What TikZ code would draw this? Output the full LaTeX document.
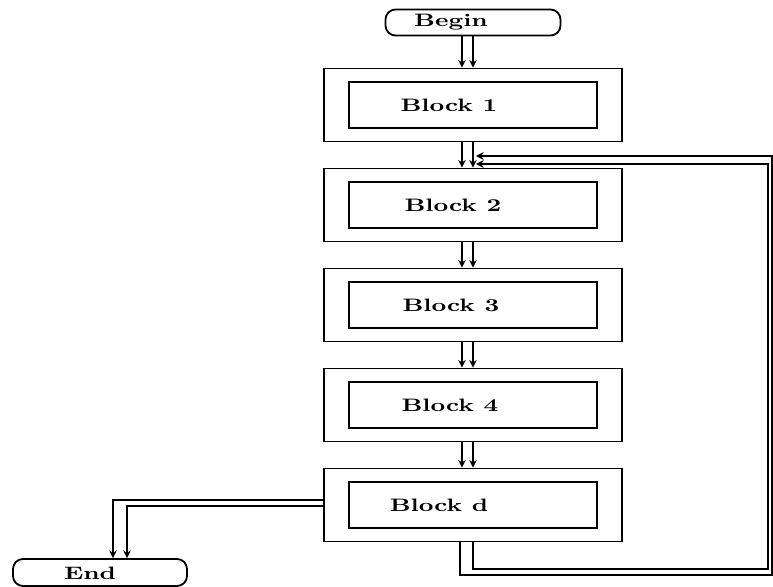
\documentclass[tikz,border=0pt]{standalone}
\usepackage{graphicx}
\usetikzlibrary{arrows.meta}

% wide lettering for the box texts
\newcommand{\widetext}[1]{\scalebox{1.38}[1]{#1}}

\tikzset{
  outerbox/.style={draw, line width=0.9pt, minimum width=149pt, minimum height=36.5pt, inner sep=0pt},
  innerbox/.style={draw, line width=0.9pt, minimum width=124pt, minimum height=23pt, inner sep=0pt},
  termbox/.style={draw, line width=0.9pt, rounded corners=5pt, minimum height=13pt, inner sep=0pt},
  lbl/.style={inner sep=0pt, font=\fontsize{9}{10}\selectfont\bfseries},
  flow/.style={line width=0.9pt, -{Stealth[length=3.8pt,width=3.8pt]}},
}

\begin{document}
\begin{tikzpicture}[x=0.5pt, y=-0.5pt]
  \useasboundingbox (0,0) rectangle (773,587);

  % begin / end
  \node[termbox, minimum width=87.5pt] (bg) at (473,22.5) {};
  \node[lbl] (tbg) at (451,22) {\widetext{Begin}};
  \node[termbox, minimum width=87pt, minimum height=13.5pt] (en) at (100,572.5) {};
  \node[lbl] (ten) at (90,573) {\widetext{End}};

  % the five blocks, each a box in a box
  \foreach \n/\y/\tx/\t in {1/105/449/Block 1, 2/205/453/Block 2, 3/305/451/Block 3, 4/405/450/Block 4, d/505/439/Block d} {
    \node[outerbox] (b\n) at (473,\y) {};
    \node[innerbox] (i\n) at (473,\y) {};
    \node[lbl] (t\n) at (\tx,\y) {\widetext{\t}};
  }

  % double flow lines down the chain
  \foreach \a/\b in {bg/b1, b1/b2, b2/b3, b3/b4, b4/bd}
    \foreach \s in {-5.5pt, 0pt}
      \draw[flow] ([xshift=\s]\a.south) -- ([xshift=\s]\b.north);

  % loop back from block d to block 2
  \coordinate (rb1) at (772,575);
  \coordinate (rt1) at (772,156);
  \coordinate (m1) at (476,156);
  \coordinate (rb2) at (768,569);
  \coordinate (rt2) at (768,164);
  \coordinate (m2) at (476,164);
  \draw[flow] ([xshift=-6.5pt]bd.south) |- (rb1) -- (rt1) -- (m1);
  \draw[flow] ([xshift=0pt]bd.south) |- (rb2) -- (rt2) -- (m2);

  % exit to end
  \draw[flow] ([yshift=2.5pt]bd.west) -| ([xshift=6.5pt]en.north);
  \draw[flow] ([yshift=-0.5pt]bd.west) -| ([xshift=13.5pt]en.north);
\end{tikzpicture}
\end{document}
